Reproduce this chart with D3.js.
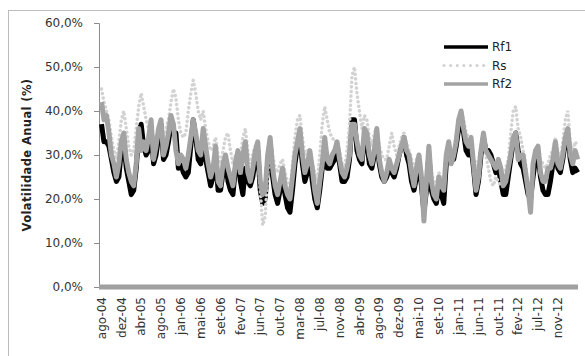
<!DOCTYPE html>
<html>
<head>
<meta charset="utf-8">
<script src="https://cdn.jsdelivr.net/npm/d3@7"></script>
<style>
  body { margin: 0; background: #fff; }
  text { font-family: "DejaVu Sans", Verdana, sans-serif; }
</style>
</head>
<body>
<svg id="chart"></svg>
<script>
// tick labels of the category axis (one every 8 samples)
const tickLabels = ['ago-04', 'dez-04', 'abr-05', 'ago-05', 'jan-06', 'mai-06', 'set-06', 'fev-07',
  'jun-07', 'out-07', 'mar-08', 'jul-08', 'nov-08', 'abr-09', 'ago-09', 'dez-09', 'mai-10', 'set-10',
  'jan-11', 'jun-11', 'out-11', 'fev-12', 'jul-12', 'nov-12'];
const samplesPerLabel = 8;

const seriesNames = ['Rf1', 'Rs', 'Rf2'];

// annual volatility (%), read off the picture roughly twice a month
const rf1 = [37, 33, 33, 32, 29, 26, 24, 25, 31, 33, 27, 24, 21, 22, 27, 35, 37, 32, 30, 31,
  36, 28, 30, 34, 37, 29, 30, 33, 37, 35, 35, 27, 28, 26, 25, 26, 32, 38, 34, 29,
  28, 34, 29, 26, 23, 25, 30, 22, 22, 26, 29, 24, 22, 21, 27, 29, 24, 21, 27, 24,
  23, 25, 29, 31, 22, 19, 20, 28, 33, 25, 21, 19, 22, 25, 21, 18, 17, 22, 28, 32,
  34, 28, 24, 26, 29, 24, 20, 18, 22, 27, 32, 27, 27, 28, 29, 31, 28, 24, 24, 25,
  29, 38, 38, 31, 29, 28, 34, 33, 28, 27, 30, 34, 28, 25, 24, 25, 27, 26, 25, 27,
  30, 32, 34, 30, 28, 24, 22, 25, 28, 23, 17, 22, 30, 22, 20, 19, 23, 21, 19, 28,
  32, 29, 29, 32, 36, 38, 35, 31, 30, 32, 27, 21, 24, 30, 34, 31, 31, 30, 28, 26,
  27, 24, 21, 21, 25, 29, 33, 35, 31, 28, 27, 24, 21, 20, 25, 29, 30, 25, 22, 21,
  21, 24, 28, 32, 27, 26, 29, 33, 35, 29, 26, 27, 26];

const rs = [45, 42, 40, 38, 34, 31, 29, 33, 38, 40, 36, 32, 30, 31, 36, 41, 44, 41, 38, 36,
  37, 33, 33, 35, 38, 34, 36, 38, 42, 45, 43, 38, 35, 34, 35, 40, 44, 47, 44, 40,
  38, 40, 36, 33, 31, 32, 34, 30, 28, 31, 34, 35, 31, 28, 30, 29, 30, 34, 36, 31,
  28, 30, 32, 30, 22, 14, 16, 26, 32, 30, 27, 26, 28, 29, 26, 24, 22, 28, 34, 38,
  39, 34, 30, 31, 31, 28, 26, 24, 30, 37, 41, 38, 35, 34, 33, 33, 31, 28, 27, 31,
  37, 48, 50, 44, 40, 36, 39, 38, 34, 32, 35, 36, 32, 30, 29, 29, 32, 35, 32, 30,
  32, 34, 35, 33, 31, 29, 27, 29, 30, 27, 18, 25, 32, 26, 24, 23, 26, 25, 24, 30,
  33, 30, 31, 35, 38, 40, 38, 35, 34, 33, 29, 27, 29, 31, 33, 30, 27, 24, 23, 25,
  24, 23, 25, 27, 29, 35, 40, 41, 36, 34, 31, 28, 23, 20, 28, 31, 32, 29, 28, 27,
  28, 30, 31, 34, 31, 29, 33, 38, 40, 33, 31, 33, 32];

const rf2 = [42, 38, 39, 35, 30, 28, 25, 28, 33, 35, 29, 26, 24, 23, 28, 36, 31, 33, 31, 34,
  38, 29, 32, 36, 38, 30, 32, 35, 39, 37, 31, 28, 30, 29, 27, 30, 34, 38, 35, 31,
  30, 36, 32, 28, 25, 27, 32, 24, 23, 28, 30, 27, 25, 23, 28, 31, 26, 30, 33, 26,
  24, 27, 31, 33, 24, 21, 22, 30, 34, 27, 23, 21, 24, 27, 23, 21, 20, 25, 30, 33,
  36, 30, 26, 28, 31, 27, 22, 19, 24, 28, 34, 29, 28, 30, 31, 33, 29, 26, 25, 27,
  30, 37, 37, 33, 30, 29, 36, 35, 30, 28, 31, 36, 29, 26, 24, 26, 29, 27, 26, 28,
  30, 32, 34, 31, 30, 26, 23, 27, 30, 25, 15, 24, 32, 24, 21, 20, 25, 23, 22, 30,
  33, 28, 30, 33, 38, 40, 36, 33, 32, 34, 28, 22, 25, 31, 35, 31, 30, 29, 28, 27,
  29, 27, 23, 24, 27, 30, 34, 35, 29, 30, 30, 26, 22, 17, 28, 31, 32, 26, 24, 24,
  27, 27, 29, 33, 28, 27, 30, 34, 36, 30, 28, 31, 29];

const yTicks = [0, 10, 20, 30, 40, 50, 60];

const width = 585, height = 356;

const svg = d3.select('#chart').attr('width', width).attr('height', height);

// outer frame of the chart area
svg.append('rect')
  .attr('x', 8.5).attr('y', 10.5)
  .attr('width', 600).attr('height', 360)
  .attr('fill', '#fff')
  .attr('stroke', '#bcbcbc');

const x = d3.scaleLinear().domain([0, rf1.length - 1]).range([101.5, 577.7]);
const y = d3.scaleLinear().domain([0, 60]).range([287, 23]);

// y axis
const yAxis = svg.append('g')
  .attr('transform', 'translate(99,0)')
  .call(d3.axisLeft(y).tickValues(yTicks).tickSize(5).tickPadding(11)
    .tickFormat(d => d3.format('.1f')(d).replace('.', ',') + '%'));
yAxis.select('.domain').attr('stroke', '#8c8c8c');
yAxis.selectAll('.tick line').attr('stroke', '#8c8c8c');
yAxis.selectAll('.tick text')
  .attr('font-size', 12)
  .attr('fill', '#333')
  .style('font-family', '"DejaVu Sans", Verdana, sans-serif');

// y axis title
svg.append('text')
  .attr('transform', 'translate(31,' + y(30) + ') rotate(-90)')
  .attr('text-anchor', 'middle')
  .attr('font-size', 11.5)
  .attr('font-weight', 'bold')
  .attr('letter-spacing', 0.4)
  .attr('fill', '#222')
  .text('Volatilidade Anual (%)');

// series lines, Rf2 drawn last so it sits on top
const line = d3.line().x((d, i) => x(i)).y(d => y(d));

svg.append('path')
  .datum(rf1)
  .attr('d', line)
  .attr('fill', 'none')
  .attr('stroke', '#000')
  .attr('stroke-width', 5)
  .attr('stroke-linejoin', 'round');

svg.append('path')
  .datum(rs)
  .attr('d', line)
  .attr('fill', 'none')
  .attr('stroke', '#d2d2d2')
  .attr('stroke-width', 3.5)
  .attr('stroke-linecap', 'round')
  .attr('stroke-dasharray', '0.1 4.5');

svg.append('path')
  .datum(rf2)
  .attr('d', line)
  .attr('fill', 'none')
  .attr('stroke', '#a3a3a3')
  .attr('stroke-width', 5)
  .attr('stroke-linejoin', 'round');

// category axis: thick gray band at zero
svg.append('line')
  .attr('x1', 99).attr('x2', 578)
  .attr('y1', y(0)).attr('y2', y(0))
  .attr('stroke', '#a0a0a0')
  .attr('stroke-width', 5);

// rotated category labels
svg.append('g')
  .selectAll('text')
  .data(tickLabels)
  .enter().append('text')
  .attr('transform', (d, i) => 'translate(' + x(i * samplesPerLabel) + ',' + (y(0) + 10) + ') rotate(-90)')
  .attr('text-anchor', 'end')
  .attr('dy', '0.35em')
  .attr('font-size', 12)
  .attr('fill', '#333')
  .text(d => d);

// legend
const legendStyles = [
  { stroke: '#000', width: 3.5, dash: null, cap: 'butt' },
  { stroke: '#d2d2d2', width: 3, dash: '0.1 6.5', cap: 'round' },
  { stroke: '#a3a3a3', width: 3.5, dash: null, cap: 'butt' }
];
const legend = svg.append('g')
  .selectAll('g')
  .data(seriesNames)
  .enter().append('g')
  .attr('transform', (d, i) => 'translate(444,' + (47 + i * 18.5) + ')');

legend.append('line')
  .attr('x1', 0).attr('x2', 44)
  .attr('stroke', (d, i) => legendStyles[i].stroke)
  .attr('stroke-width', (d, i) => legendStyles[i].width)
  .attr('stroke-linecap', (d, i) => legendStyles[i].cap)
  .attr('stroke-dasharray', (d, i) => legendStyles[i].dash);

legend.append('text')
  .attr('x', 48)
  .attr('dy', '0.35em')
  .attr('font-size', 12)
  .attr('fill', '#222')
  .text(d => d);
</script>
</body>
</html>
